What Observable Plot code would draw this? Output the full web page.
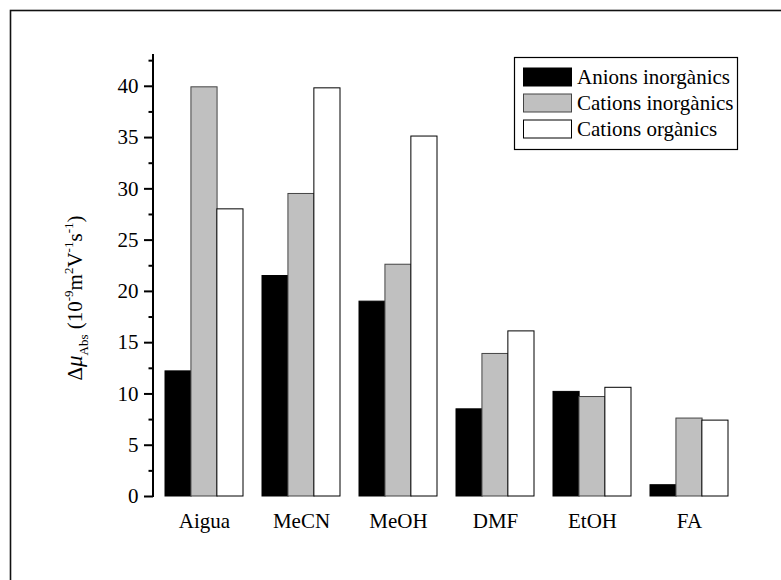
<!DOCTYPE html>
<html>
<head>
<meta charset="utf-8">
<script src="https://cdn.jsdelivr.net/npm/d3@7"></script>
<script src="https://cdn.jsdelivr.net/npm/@observablehq/plot@0.6"></script>
<style>
  html, body { margin: 0; padding: 0; background: #fff; }
</style>
</head>
<body>
<div id="chart"></div>
<script>
// ---- data ----
const solvents = ["Aigua", "MeCN", "MeOH", "DMF", "EtOH", "FA"];
const series = ["Anions inorgànics", "Cations inorgànics", "Cations orgànics"];
const anionsInorganics = [12.2, 21.5, 19.0, 8.5, 10.2, 1.1];
const cationsInorganics = [39.9, 29.5, 22.6, 13.9, 9.7, 7.6];
const cationsOrganics = [28.0, 39.8, 35.1, 16.1, 10.6, 7.4];
const yMajorTicks = [0, 5, 10, 15, 20, 25, 30, 35, 40];
const yMinorTicks = [2.5, 7.5, 12.5, 17.5, 22.5, 27.5, 32.5, 37.5, 42.5];

// ---- styles ----
const FONT = "'Liberation Serif', 'Times New Roman', serif";
const fills = ["#000000", "#c0c0c0", "#ffffff"];
const strokes = ["#000000", "#444444", "#000000"];

// ---- layout ----
const W = 781, H = 580;
const mL = 153, mR = 42, mT = 54, mB = 84;
const pInner = 0.2, pOuter = 0.113;
const step = (W - mL - mR) / (solvents.length - pInner + 2 * pOuter);
const bw = step * (1 - pInner);
const third = bw / 3;

const seriesValues = [anionsInorganics, cationsInorganics, cationsOrganics];
const tables = seriesValues.map(vals => solvents.map((s, i) => ({solvent: s, value: vals[i]})));

const barMarks = tables.map((t, k) => Plot.barY(t, {
  x: "solvent",
  y: "value",
  fill: fills[k],
  stroke: strokes[k],
  strokeWidth: 1,
  insetLeft: k * third,
  insetRight: (2 - k) * third
}));

// y-axis line
const axisLine = (index, scales, values, dims) => {
  const g = d3.create("svg:g");
  g.append("line")
    .attr("x1", dims.marginLeft).attr("x2", dims.marginLeft)
    .attr("y1", dims.marginTop).attr("y2", dims.height - dims.marginBottom + 1)
    .attr("stroke", "#000").attr("stroke-width", 2);
  return g.node();
};

// outer border
const border = () => {
  const g = d3.create("svg:g");
  g.append("rect").attr("x", 10.5).attr("y", 10.5).attr("width", 820).attr("height", 620)
    .attr("fill", "none").attr("stroke", "#111").attr("stroke-width", 1.6);
  return g.node();
};

// y label
const yLabel = () => {
  const g = d3.create("svg:g").attr("transform", "translate(82,298) rotate(-90)");
  const t = g.append("text").attr("text-anchor", "middle").attr("font-family", FONT)
    .attr("font-size", 21).attr("fill", "#000");
  const parts = [
    ["\u0394", 21, 0, "normal"],
    ["\u03bc", 23, 0, "italic"],
    ["Abs", 13, 6, "normal"],
    [" (10", 21, -6, "normal"],
    ["-9", 13, -9, "normal"],
    ["m", 21, 9, "normal"],
    ["2", 13, -9, "normal"],
    ["V", 21, 9, "normal"],
    ["-1", 13, -9, "normal"],
    ["s", 21, 9, "normal"],
    ["-1", 13, -9, "normal"],
    [")", 21, 9, "normal"]
  ];
  for (const [txt, fs, dy, st] of parts) {
    t.append("tspan").attr("font-size", fs).attr("dy", dy).attr("font-style", st).text(txt);
  }
  return g.node();
};

// legend
const legend = () => {
  const g = d3.create("svg:g");
  const bx = 514, by = 57, bwid = 223, bh = 92;
  g.append("rect").attr("x", bx + 0.5).attr("y", by + 0.5).attr("width", bwid).attr("height", bh)
    .attr("fill", "#fff").attr("stroke", "#000").attr("stroke-width", 1.2);
  series.forEach((name, k) => {
    const cy = by + 20 + k * 26;
    g.append("rect").attr("x", 523.5).attr("y", cy - 9).attr("width", 48).attr("height", 18)
      .attr("fill", fills[k]).attr("stroke", strokes[k]).attr("stroke-width", 1);
    g.append("text").attr("x", 577).attr("y", cy).attr("dy", "0.33em")
      .attr("text-anchor", "start")
      .attr("font-family", FONT).attr("font-size", 21).attr("fill", "#000").text(name);
  });
  return g.node();
};

const chart = Plot.plot({
  width: W,
  height: H,
  marginLeft: mL,
  marginRight: mR,
  marginTop: mT,
  marginBottom: mB,
  style: {fontFamily: FONT, fontSize: "21px", color: "#000", background: "#fff", overflow: "visible"},
  x: {domain: solvents, paddingInner: pInner, paddingOuter: pOuter, align: 0.5},
  y: {domain: [0, 43.1]},
  marks: [
    border,
    ...barMarks,
    axisLine,
    Plot.axisY({ticks: yMajorTicks, tickSize: 9, tickPadding: 6, strokeWidth: 2, label: null, fontSize: 21}),
    Plot.axisY({ticks: yMinorTicks, tickSize: 4.5, strokeWidth: 2, text: null, label: null}),
    Plot.axisX({tickSize: 0, tickPadding: 17, label: null, fontSize: 21}),
    yLabel,
    legend
  ]
});
document.getElementById("chart").appendChild(chart);
</script>
</body>
</html>
